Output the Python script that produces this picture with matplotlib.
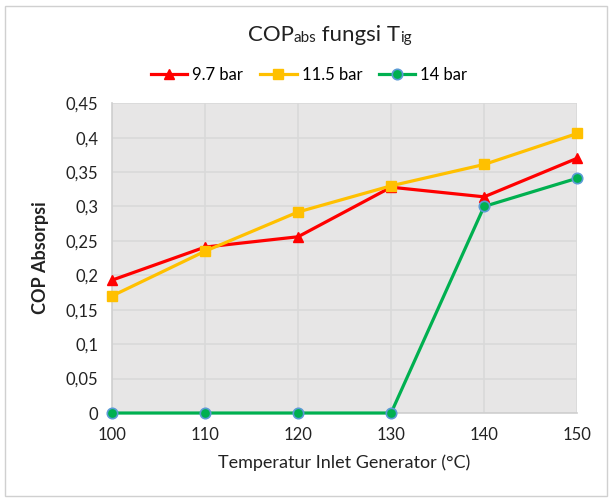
import matplotlib
matplotlib.use("Agg")
import matplotlib.pyplot as plt
from matplotlib.ticker import FuncFormatter, MultipleLocator
from matplotlib.patches import Rectangle

temps = [100, 110, 120, 130, 140, 150]
cop_97 = [0.193, 0.241, 0.256, 0.328, 0.314, 0.370]
cop_115 = [0.170, 0.235, 0.292, 0.330, 0.361, 0.406]
cop_14 = [0.0, 0.0, 0.0, 0.0, 0.300, 0.341]
labels = ["9.7 bar", "11.5 bar", "14 bar"]

plt.rcParams['font.family'] = ['Lato', 'DejaVu Sans']

fig = plt.figure(figsize=(6.12, 5.01), dpi=100)
fig.patches.append(Rectangle((0.008, 0.01), 0.984, 0.978, transform=fig.transFigure,
                             fill=False, edgecolor='#d0d0d0', linewidth=1.0))
ax = fig.add_axes([0.183, 0.1756, 0.760, 0.6184])
ax.set_facecolor('#e7e6e6')

ax.plot(temps, cop_97, color='#ff0000', lw=2.3, marker='^', ms=7.5, label=labels[0], clip_on=False, zorder=3)
ax.plot(temps, cop_115, color='#ffc000', lw=2.3, marker='s', ms=7.5, label=labels[1], clip_on=False, zorder=3)
ax.plot(temps, cop_14, color='#00b050', lw=2.3, marker='o', ms=7.5, mfc='#00b050',
        mec='#5b9bd5', mew=1.2, label=labels[2], clip_on=False, zorder=3)

ax.set_xlim(100, 150)
ax.set_ylim(0, 0.45)
ax.xaxis.set_major_locator(MultipleLocator(10))
ax.yaxis.set_major_locator(MultipleLocator(0.05))
ax.yaxis.set_major_formatter(FuncFormatter(lambda v, p: ('%g' % round(v, 2)).replace('.', ',')))
ax.grid(True, color='#d9d9d9', lw=1.2)
ax.set_axisbelow(True)
for s in ['top', 'right']:
    ax.spines[s].set_visible(False)
for s in ['left', 'bottom']:
    ax.spines[s].set_color('#cfcfcf')
    ax.spines[s].set_linewidth(1.2)
ax.tick_params(length=0, labelsize=12, colors='#222222', pad=10)
ax.set_xlabel('Temperatur Inlet Generator (°C)', fontsize=13, color='#222222', labelpad=8)
ax.set_ylabel('COP Absorpsi', fontsize=13, fontweight='bold', color='#222222', labelpad=12)

leg = fig.legend(loc='center', bbox_to_anchor=(0.505, 0.85), ncol=3, frameon=False,
                 fontsize=12, handlelength=2.2, columnspacing=1.0, handletextpad=0.3)

# Title with pseudo-subscripts
t1 = fig.text(0.405, 0.918, 'COP', fontsize=16, color='#222222', va='baseline', ha='left')
t2 = ax.annotate('abs', xy=(1, 0), xycoords=t1, fontsize=11, color='#222222', va='bottom', ha='left')
t3 = ax.annotate(' fungsi T', xy=(1, 0), xycoords=t2, fontsize=16, color='#222222', va='bottom', ha='left')
t4 = ax.annotate('ig', xy=(1, 0), xycoords=t3, fontsize=11, color='#222222', va='bottom', ha='left')

fig.savefig('out.png', dpi=100)
